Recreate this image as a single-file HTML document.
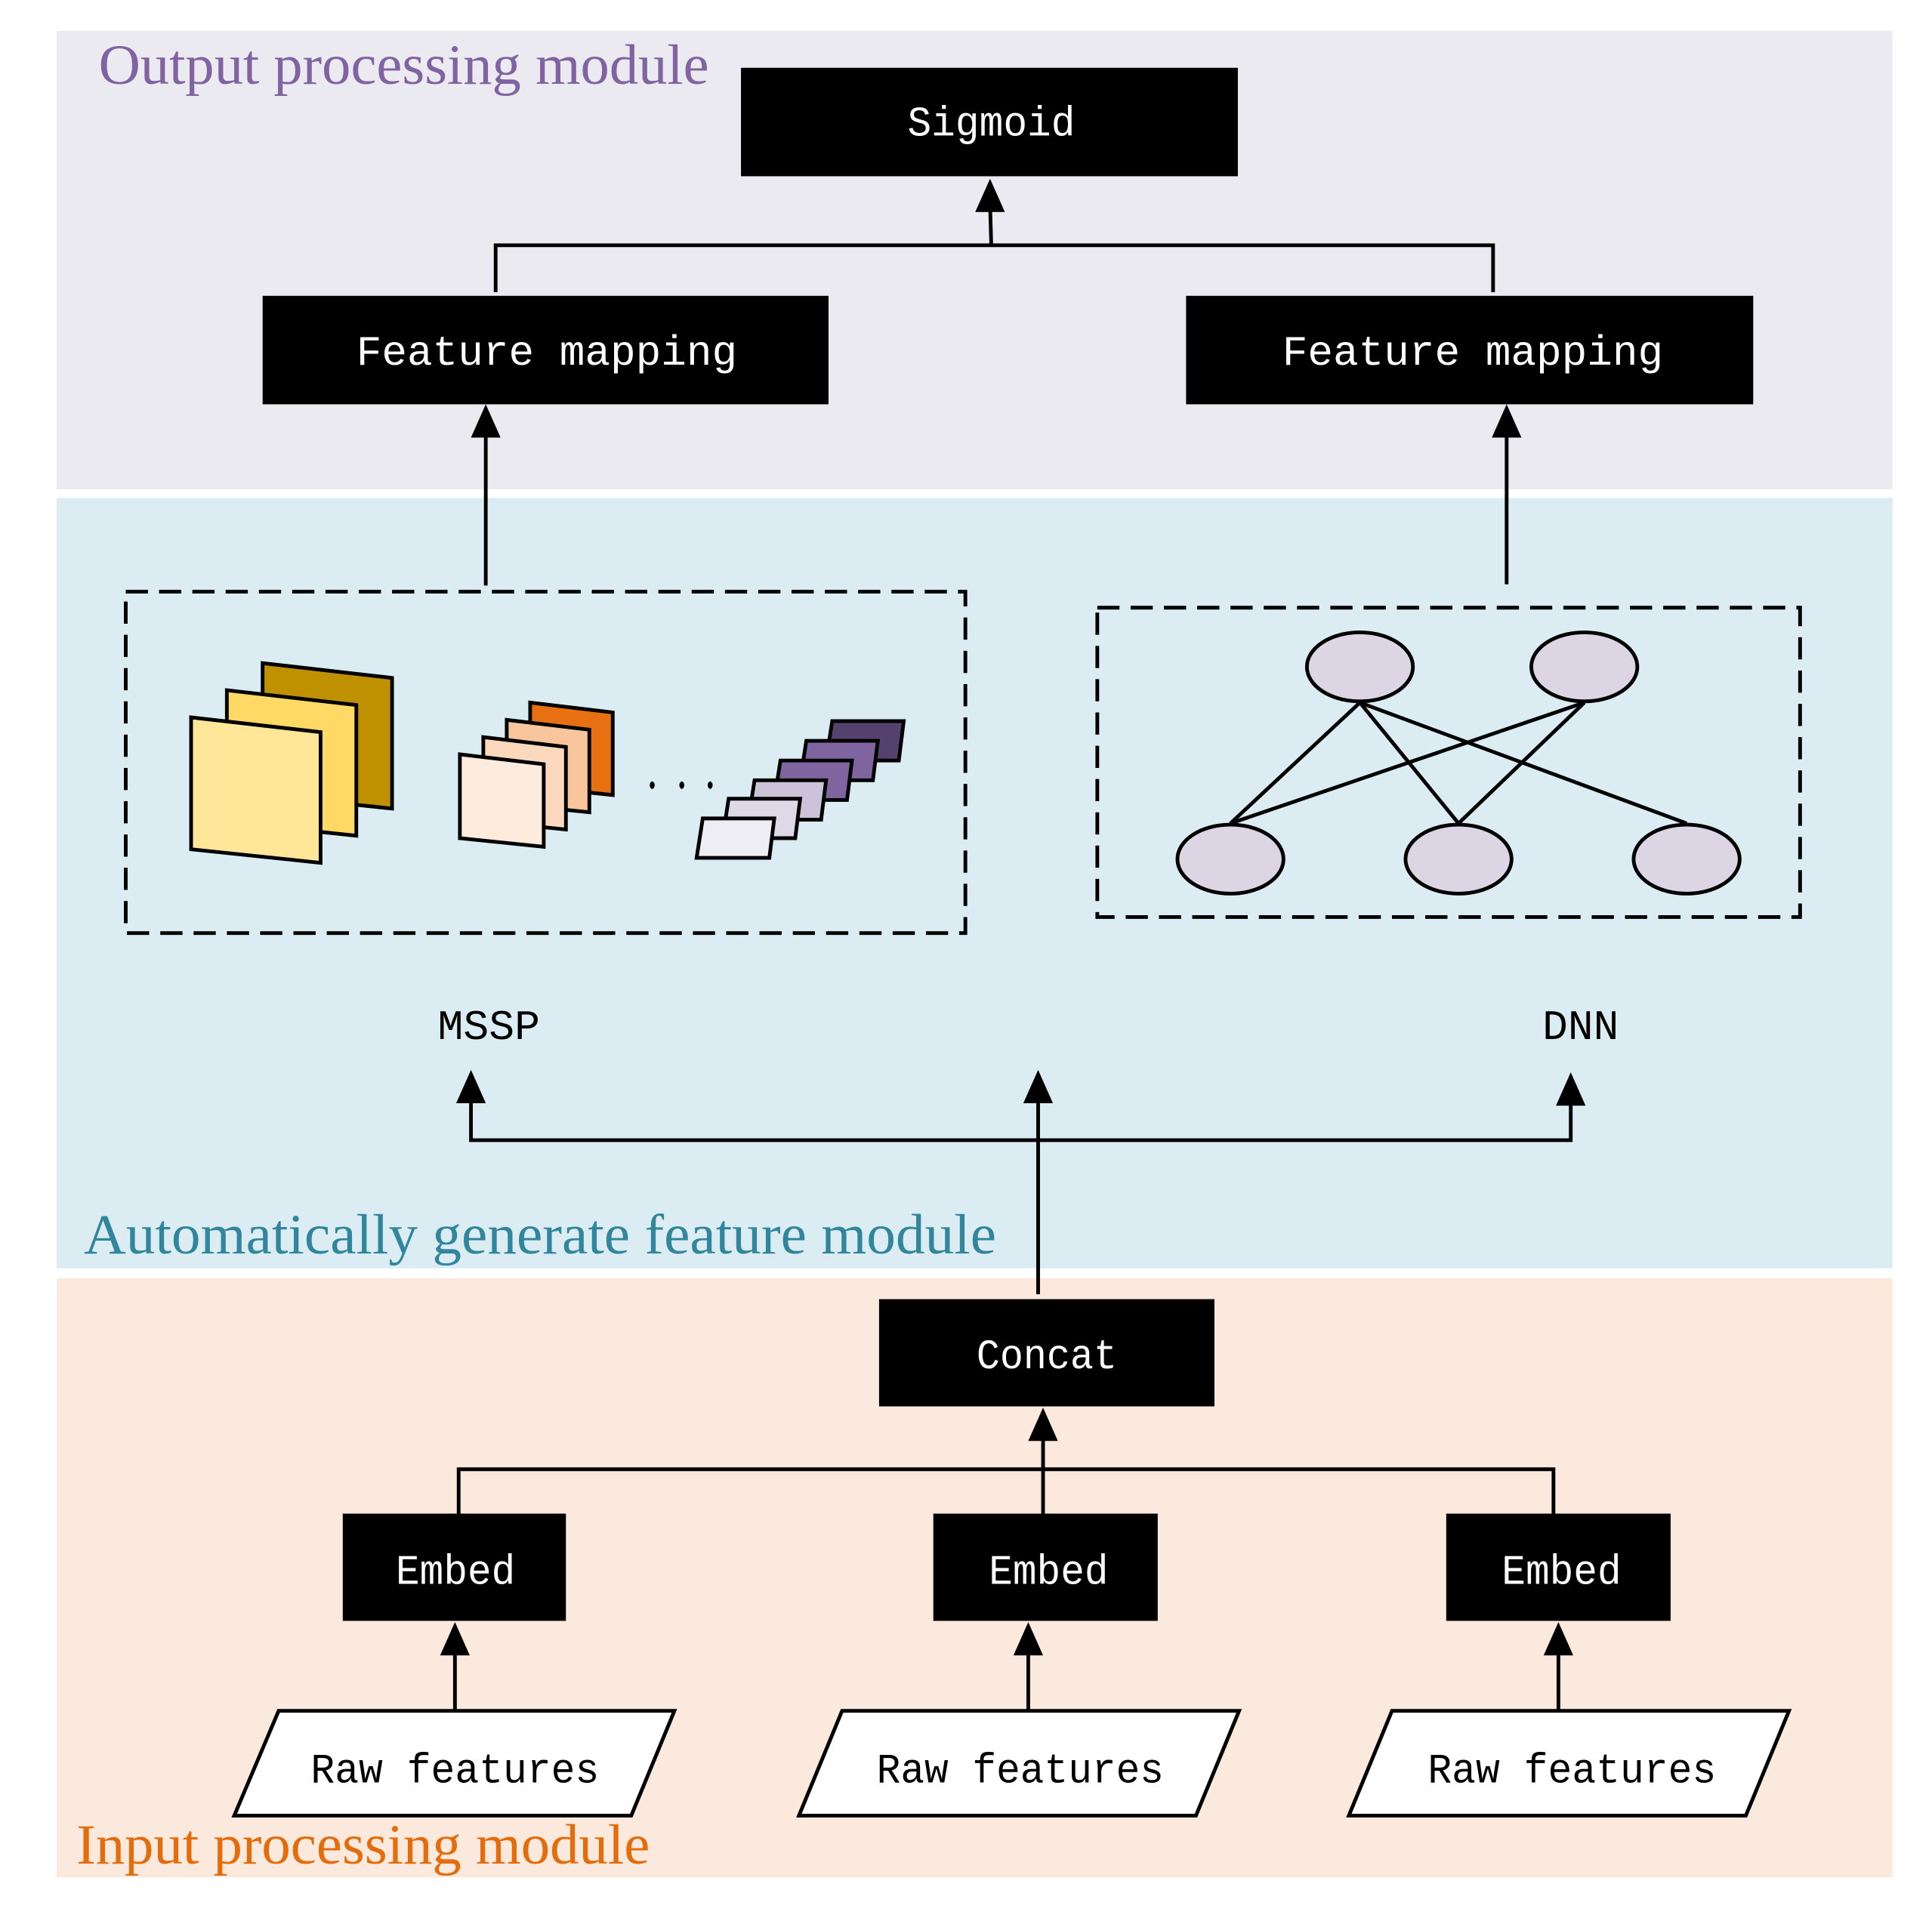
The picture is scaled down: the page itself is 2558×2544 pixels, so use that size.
<!DOCTYPE html>
<html><head><meta charset="utf-8"><style>html,body{margin:0;padding:0;background:#fff}svg{display:block}</style></head><body>
<svg width="2558" height="2544" viewBox="0 0 1567 1558.5" preserveAspectRatio="none" xmlns="http://www.w3.org/2000/svg">
<rect x="0" y="0" width="1567" height="1559" fill="#fff"/>
<rect x="46" y="25" width="1489" height="372" fill="#eceaf1"/>
<rect x="46" y="404" width="1489" height="625" fill="#dbedf3"/>
<rect x="46" y="1037" width="1489" height="486" fill="#fbe9dd"/>
<g font-family="Liberation Serif, serif" font-size="46">
<text x="80" y="68" fill="#8064a2" textLength="495" lengthAdjust="spacingAndGlyphs">Output processing module</text>
<text x="68" y="1017" fill="#31859c" textLength="740" lengthAdjust="spacingAndGlyphs">Automatically generate feature module</text>
<text x="62" y="1512" fill="#e46c0a" textLength="465" lengthAdjust="spacingAndGlyphs">Input processing module</text>
</g>
<g fill="#000">
<rect x="601" y="55" width="403" height="88"/>
<rect x="213" y="240" width="459" height="88"/>
<rect x="962" y="240" width="460" height="88"/>
<rect x="713" y="1054" width="272" height="87"/>
<rect x="278" y="1228" width="181" height="87"/>
<rect x="757" y="1228" width="182" height="87"/>
<rect x="1173" y="1228" width="182" height="87"/>
</g>
<g font-family="Liberation Mono, monospace" font-size="34" fill="#fff">
<text x="736" y="110" textLength="136" lengthAdjust="spacingAndGlyphs">Sigmoid</text>
<text x="289" y="296" textLength="309" lengthAdjust="spacingAndGlyphs">Feature mapping</text>
<text x="1040" y="296" textLength="309" lengthAdjust="spacingAndGlyphs">Feature mapping</text>
<text x="792" y="1110" textLength="114" lengthAdjust="spacingAndGlyphs">Concat</text>
<text x="321" y="1285" textLength="97" lengthAdjust="spacingAndGlyphs">Embed</text>
<text x="802" y="1285" textLength="97" lengthAdjust="spacingAndGlyphs">Embed</text>
<text x="1218" y="1285" textLength="97" lengthAdjust="spacingAndGlyphs">Embed</text>
</g>
<g font-family="Liberation Mono, monospace" font-size="34" fill="#000">
<text x="355" y="843" textLength="83" lengthAdjust="spacingAndGlyphs">MSSP</text>
<text x="1251" y="843" textLength="62" lengthAdjust="spacingAndGlyphs">DNN</text>
</g>
<g stroke="#000" stroke-width="3" fill="none">
<polyline points="402,237 402,199 1211,199 1211,237"/>
<line x1="804" y1="199" x2="803" y2="165"/>
<line x1="394" y1="475" x2="394" y2="350"/>
<line x1="1222" y1="474" x2="1222" y2="350"/>
<polyline points="382,892 382,925 1274,925 1274,892"/>
<line x1="842" y1="1050" x2="842" y2="892"/>
<polyline points="372,1228 372,1192 1260,1192 1260,1228"/>
<line x1="846" y1="1228" x2="846" y2="1165"/>
<line x1="369" y1="1388" x2="369" y2="1338"/>
<line x1="834" y1="1388" x2="834" y2="1338"/>
<line x1="1264" y1="1388" x2="1264" y2="1338"/>
</g>
<g fill="#000">
<path d="M803,145 l-12,27 h24z"/>
<path d="M394,328 l-12,27 h24z"/>
<path d="M1222,328 l-12,27 h24z"/>
<path d="M382,868 l-12,27 h24z"/>
<path d="M842,868 l-12,27 h24z"/>
<path d="M1274,870 l-12,27 h24z"/>
<path d="M846,1142 l-12,27 h24z"/>
<path d="M369,1316 l-12,27 h24z"/>
<path d="M834,1316 l-12,27 h24z"/>
<path d="M1264,1316 l-12,27 h24z"/>
</g>
<g fill="#fff" stroke="#000" stroke-width="3">
<path d="M226,1388 H547 L512,1473 H190z"/>
<path d="M683,1388 H1005 L970,1473 H648z"/>
<path d="M1129,1388 H1451 L1416,1473 H1094z"/>
</g>
<g font-family="Liberation Mono, monospace" font-size="34" fill="#000">
<text x="252" y="1446" textLength="234" lengthAdjust="spacingAndGlyphs">Raw features</text>
<text x="711" y="1446" textLength="233" lengthAdjust="spacingAndGlyphs">Raw features</text>
<text x="1158" y="1446" textLength="234" lengthAdjust="spacingAndGlyphs">Raw features</text>
</g>
<g fill="none" stroke="#000" stroke-width="3" stroke-dasharray="18,9">
<rect x="102" y="480" width="681" height="277"/>
<rect x="890" y="493" width="570" height="251"/>
</g>
<g stroke="#000" stroke-width="3">
<path d="M213,538 L318,550 L318,656 L213,645z" fill="#bf9000"/>
<path d="M184,560 L289,572 L289,678 L184,667z" fill="#ffd966"/>
<path d="M155,582 L260,594 L260,700 L155,689z" fill="#ffe699"/>
<path d="M430,570 L497,578 L497,645 L430,638z" fill="#e97010"/>
<path d="M411,584 L478,592 L478,659 L411,652z" fill="#f9c59c"/>
<path d="M392,598 L459,606 L459,673 L392,666z" fill="#fcd9bd"/>
<path d="M373,612 L441,620 L441,687 L373,680z" fill="#fdebde"/>
<path d="M675,585 H733 L729,617 H670z" fill="#54416e"/>
<path d="M654,601 H712 L708,633 H649z" fill="#7f64a0"/>
<path d="M633,617 H691 L687,649 H628z" fill="#7f64a0"/>
<path d="M612,633 H670 L666,665 H607z" fill="#ccc3da"/>
<path d="M591,648 H649 L645,680 H586z" fill="#ded9e7"/>
<path d="M570,664 H628 L624,696 H565z" fill="#efedf4"/>
</g>
<g fill="#000"><ellipse cx="529" cy="637" rx="2" ry="3"/><ellipse cx="553" cy="637" rx="2" ry="3"/><ellipse cx="576" cy="637" rx="2" ry="3"/></g>
<g stroke="#000" stroke-width="3">
<line x1="1103" y1="570" x2="998" y2="668"/>
<line x1="1103" y1="570" x2="1183" y2="668"/>
<line x1="1103" y1="570" x2="1368" y2="668"/>
<line x1="1285" y1="570" x2="998" y2="668"/>
<line x1="1285" y1="570" x2="1183" y2="668"/>
</g>
<g fill="#dcd6e4" stroke="#000" stroke-width="3">
<ellipse cx="1103" cy="541" rx="43" ry="28"/>
<ellipse cx="1285" cy="541" rx="43" ry="28"/>
<ellipse cx="998" cy="697" rx="43" ry="28"/>
<ellipse cx="1183" cy="697" rx="43" ry="28"/>
<ellipse cx="1368" cy="697" rx="43" ry="28"/>
</g>
</svg>
</body></html>
